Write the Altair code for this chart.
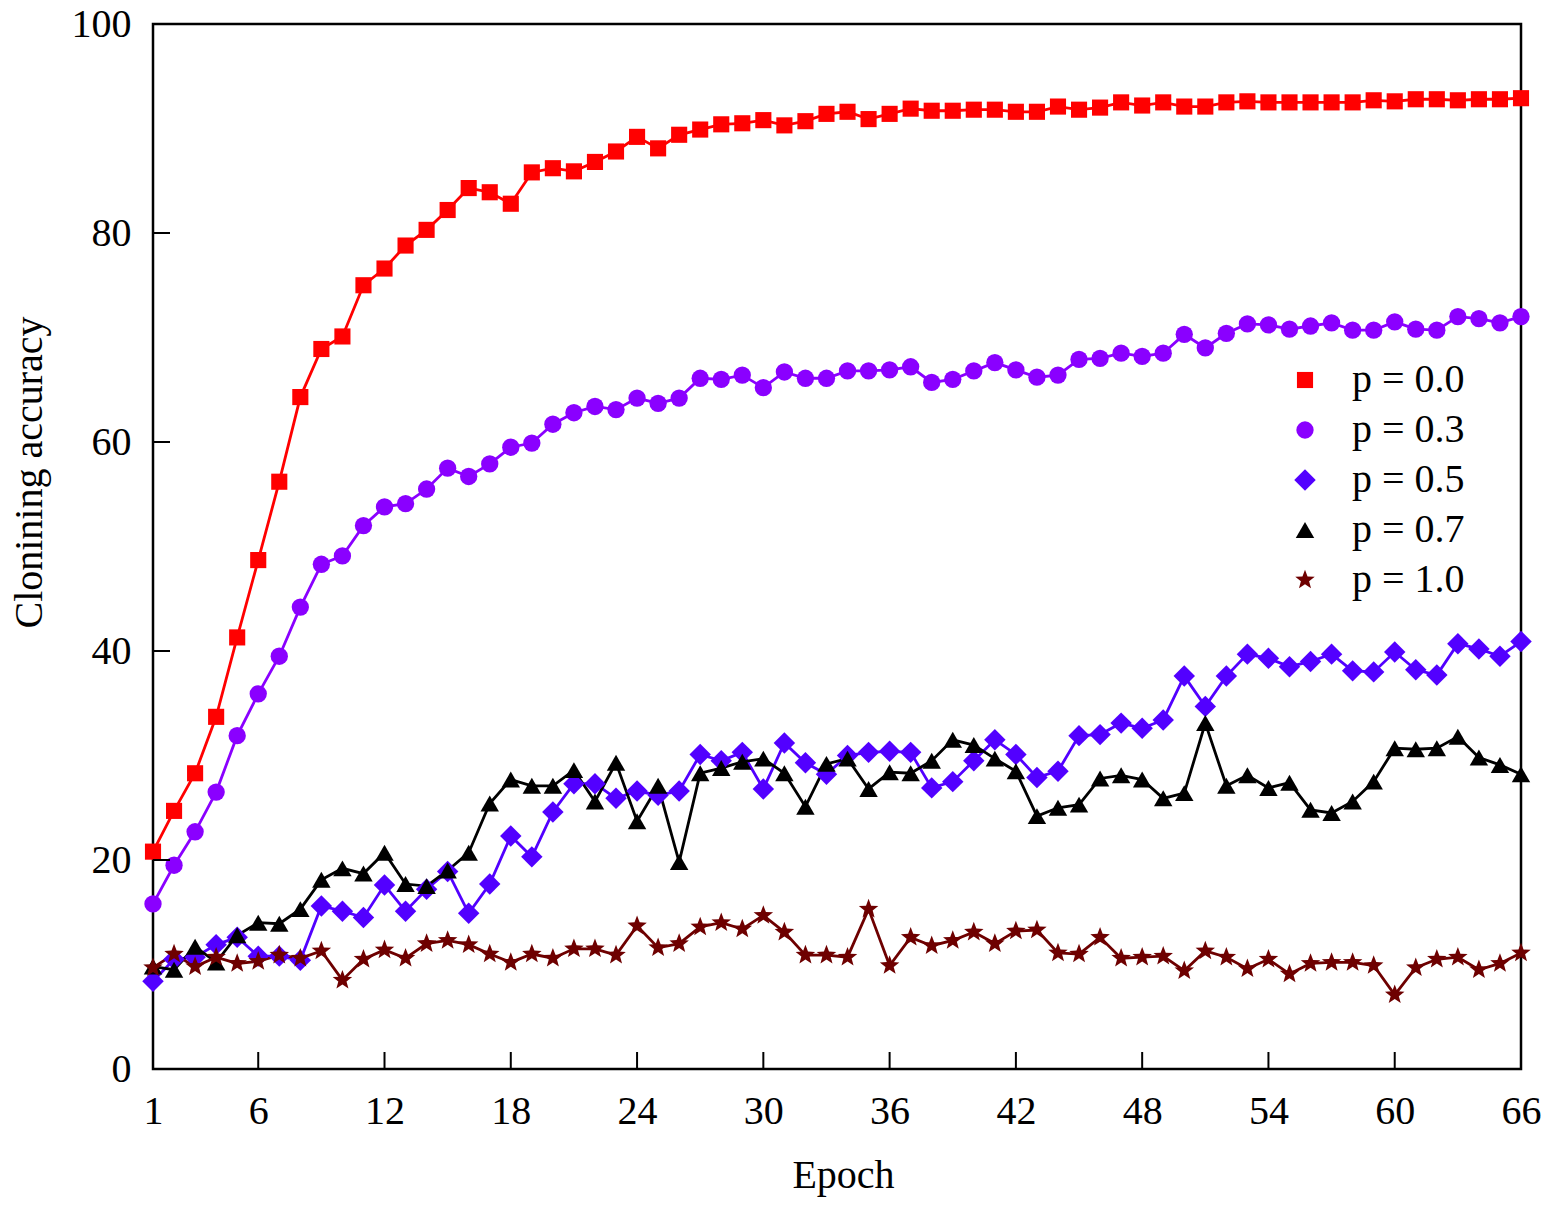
import altair as alt
import pandas as pd

epochs = list(range(1, 67))
series_names = ["p = 0.0", "p = 0.3", "p = 0.5", "p = 0.7", "p = 1.0"]

p00 = [20.8, 24.7, 28.3, 33.7, 41.3, 48.7, 56.2, 64.3, 68.9, 70.1,
       75.0, 76.6, 78.8, 80.3, 82.2, 84.3, 83.9, 82.8, 85.8, 86.2,
       85.9, 86.8, 87.8, 89.2, 88.1, 89.4, 89.9, 90.4, 90.5, 90.8,
       90.3, 90.7, 91.4, 91.6, 90.9, 91.4, 91.9, 91.7, 91.7, 91.8,
       91.8, 91.6, 91.6, 92.1, 91.8, 92.0, 92.5, 92.2, 92.5, 92.1,
       92.1, 92.5, 92.6, 92.5, 92.5, 92.5, 92.5, 92.5, 92.7, 92.6,
       92.8, 92.8, 92.7, 92.8, 92.8, 92.9]
p03 = [15.8, 19.5, 22.7, 26.5, 31.9, 35.9, 39.5, 44.2, 48.3, 49.1,
       52.0, 53.8, 54.1, 55.5, 57.5, 56.7, 57.9, 59.5, 59.9, 61.7,
       62.8, 63.4, 63.1, 64.2, 63.7, 64.2, 66.1, 66.0, 66.4, 65.2,
       66.7, 66.1, 66.1, 66.8, 66.8, 66.9, 67.2, 65.7, 66.0, 66.8,
       67.6, 66.9, 66.2, 66.4, 67.9, 68.0, 68.5, 68.2, 68.5, 70.3,
       69.0, 70.4, 71.3, 71.2, 70.8, 71.1, 71.4, 70.7, 70.7, 71.5,
       70.8, 70.7, 72.0, 71.8, 71.4, 72.0]
p05 = [8.4, 10.5, 10.7, 11.9, 12.6, 10.8, 10.8, 10.4, 15.6, 15.1,
       14.5, 17.6, 15.1, 17.2, 18.9, 14.9, 17.7, 22.3, 20.3, 24.6,
       27.3, 27.3, 25.9, 26.6, 26.2, 26.6, 30.1, 29.5, 30.3, 26.8,
       31.2, 29.3, 28.2, 30.0, 30.3, 30.4, 30.3, 26.9, 27.5, 29.5,
       31.5, 30.1, 27.9, 28.5, 31.9, 32.0, 33.1, 32.6, 33.4, 37.6,
       34.7, 37.6, 39.7, 39.3, 38.5, 39.0, 39.7, 38.1, 38.0, 39.9,
       38.2, 37.7, 40.7, 40.2, 39.5, 40.9]
p07 = [9.8, 9.5, 11.7, 10.2, 12.8, 14.0, 13.9, 15.3, 18.1, 19.2,
       18.7, 20.7, 17.7, 17.5, 19.0, 20.7, 25.4, 27.7, 27.1, 27.1,
       28.6, 25.6, 29.3, 23.7, 27.1, 19.8, 28.3, 28.8, 29.4, 29.7,
       28.3, 25.1, 29.2, 29.7, 26.8, 28.4, 28.3, 29.5, 31.5, 31.0,
       29.7, 28.5, 24.2, 25.0, 25.3, 27.8, 28.1, 27.7, 25.9, 26.4,
       33.1, 27.1, 28.1, 26.9, 27.4, 24.8, 24.5, 25.6, 27.5, 30.7,
       30.6, 30.7, 31.8, 29.8, 29.1, 28.2]
p10 = [9.7, 11.0, 9.8, 10.7, 10.1, 10.3, 10.9, 10.6, 11.3, 8.5,
       10.5, 11.4, 10.6, 12.0, 12.3, 11.9, 11.0, 10.2, 11.0, 10.6,
       11.5, 11.5, 10.9, 13.7, 11.6, 12.0, 13.6, 14.0, 13.4, 14.7,
       13.1, 10.9, 10.9, 10.7, 15.3, 9.9, 12.6, 11.8, 12.3, 13.1,
       12.0, 13.2, 13.3, 11.1, 11.0, 12.6, 10.6, 10.7, 10.8, 9.4,
       11.3, 10.7, 9.6, 10.5, 9.1, 10.1, 10.2, 10.2, 9.9, 7.1,
       9.7, 10.5, 10.7, 9.5, 10.1, 11.1]

STAR = ("M0,-1L0.25,-0.34L0.951,-0.309L0.40,0.13L0.588,0.809L0,0.42"
        "L-0.588,0.809L-0.40,0.13L-0.951,-0.309L-0.25,-0.34Z")
colors = ["#FF0000", "#8A00FF", "#5200FF", "#000000", "#6E0000"]
shapes = ["square", "circle", "diamond", "triangle-up", STAR]
sizes = [260, 300, 460, 340, 420]

x_ticks = [1, 6, 12, 18, 24, 30, 36, 42, 48, 54, 60, 66]
y_ticks = [0, 20, 40, 60, 80, 100]

rows = []
for k, (name, vals) in enumerate(zip(series_names, [p00, p03, p05, p07, p10])):
    for e, v in zip(epochs, vals):
        rows.append({"epoch": e, "acc": v, "series": name, "k": k})
df = pd.DataFrame(rows)

FONT = "Liberation Serif"
FS = 40
W, H = 1368, 1045

x_scale = alt.Scale(domain=[1, 66], nice=False, zero=False)
y_scale = alt.Scale(domain=[0, 100], nice=False)
color_scale = alt.Scale(domain=series_names, range=colors)
shape_scale = alt.Scale(domain=series_names, range=shapes)
size_scale = alt.Scale(type="ordinal", domain=series_names, range=sizes)

x_axis = alt.Axis(values=x_ticks, title="Epoch", ticks=False, tickSize=0, domain=False,
                  grid=False, labelFont=FONT, labelFontSize=FS, labelColor="black",
                  labelPadding=54, labelBaseline="alphabetic", labelFlush=False,
                  titleFont=FONT, titleFontSize=FS, titleFontWeight="normal",
                  titleColor="black", titleX=690, titleY=118, titleBaseline="alphabetic")
y_axis = alt.Axis(values=y_ticks, title="Clonining accuracy", ticks=False, tickSize=0,
                  domain=False, grid=False, labelFont=FONT, labelFontSize=FS,
                  labelColor="black", labelPadding=22, labelFlush=False,
                  titleFont=FONT, titleFontSize=FS, titleFontWeight="normal",
                  titleColor="black", titleX=-112, titleY=448, titleAngle=270,
                  titleBaseline="alphabetic", titleAlign="center")

lines = alt.Chart(df).mark_line(strokeWidth=2.8).encode(
    x=alt.X("epoch:Q", scale=x_scale, axis=x_axis),
    y=alt.Y("acc:Q", scale=y_scale, axis=y_axis),
    color=alt.Color("series:N", scale=color_scale, legend=None),
    order=alt.Order("epoch:Q"),
)

legend = alt.Legend(title=None, orient="none", legendX=1132, legendY=336,
                    labelFont=FONT, labelFontSize=FS, labelColor="black",
                    rowPadding=10, labelOffset=27, padding=0, symbolStrokeWidth=0,
                    symbolOpacity=1)

points = alt.Chart(df).mark_point(filled=True, opacity=1, strokeWidth=0).encode(
    x=alt.X("epoch:Q", scale=x_scale),
    y=alt.Y("acc:Q", scale=y_scale),
    color=alt.Color("series:N", scale=color_scale, legend=legend, title=None),
    shape=alt.Shape("series:N", scale=shape_scale, legend=legend, title=None),
    size=alt.Size("series:N", scale=size_scale, legend=legend, title=None),
    order=alt.Order("k:Q"),
)

xt = pd.DataFrame({"epoch": x_ticks})
yt = pd.DataFrame({"acc": y_ticks})
xtick_rules = alt.Chart(xt).mark_rule(color="black", strokeWidth=2).encode(
    x=alt.X("epoch:Q", scale=x_scale), y=alt.value(H), y2=alt.value(H - 17))
ytick_rules = alt.Chart(yt).mark_rule(color="black", strokeWidth=2).encode(
    y=alt.Y("acc:Q", scale=y_scale), x=alt.value(0), x2=alt.value(17))

chart = alt.layer(lines, points, xtick_rules, ytick_rules).resolve_legend(
    color="independent", shape="independent", size="independent"
).properties(
    width=W, height=H,
    autosize=alt.AutoSizeParams(type="none"),
    padding={"left": 145, "top": 16, "right": 20, "bottom": 135},
    background="white",
).configure_view(stroke="black", strokeWidth=2.5)

chart.save("out.html", embed_options={"renderer": "svg", "actions": False})
